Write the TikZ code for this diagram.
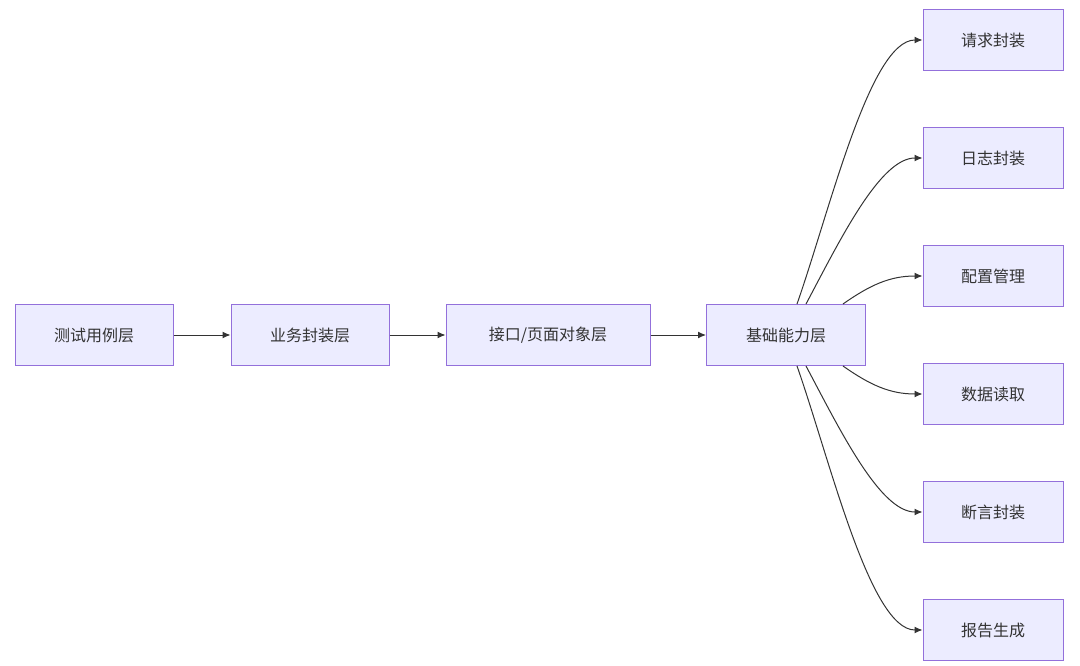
\documentclass[tikz,border=0pt]{standalone}
\usepackage{fontspec}
\newfontfamily\cjk{Noto Sans CJK SC}
\usetikzlibrary{arrows.meta}
\definecolor{nf}{HTML}{ECECFF}
\definecolor{nb}{HTML}{9370DB}
\definecolor{ln}{HTML}{333333}
\begin{document}
\begin{tikzpicture}[x=1pt,y=-1pt,
  box/.style={draw=nb,fill=nf,line width=1pt,minimum height=61pt,inner sep=0pt,font=\cjk\fontsize{16}{18}\selectfont,text=ln},
  arr/.style={draw=ln,line width=1pt,-{Latex[length=8pt,width=7pt]}}]
\useasboundingbox (0,0) rectangle (1080,666);
\node[box,minimum width=158pt] (a) at (94,335) {测试用例层};
\node[box,minimum width=158pt] (b) at (310,335) {业务封装层};
\node[box,minimum width=204pt] (c) at (548,335) {接口/页面对象层};
\node[box,minimum width=159pt] (d) at (786,335) {基础能力层};
\foreach \n/\y/\t in {r1/40/请求封装,r2/158/日志封装,r3/276/配置管理,r4/394/数据读取,r5/512/断言封装,r6/630/报告生成}
  \node[box,minimum width=140pt] (\n) at (993,\y) {\t};
\draw[arr] (a) -- (b);
\draw[arr] (b) -- (c);
\draw[arr] (c) -- (d);
\draw[arr] (797,304) .. controls (830,210) and (870,40) .. (r1.west);
\draw[arr] (806,304) .. controls (840,240) and (880,158) .. (r2.west);
\draw[arr] (843,304) .. controls (870,285) and (890,276) .. (r3.west);
\draw[arr] (843,366) .. controls (870,385) and (890,394) .. (r4.west);
\draw[arr] (806,366) .. controls (840,430) and (880,512) .. (r5.west);
\draw[arr] (797,366) .. controls (830,460) and (870,630) .. (r6.west);
\end{tikzpicture}
\end{document}
